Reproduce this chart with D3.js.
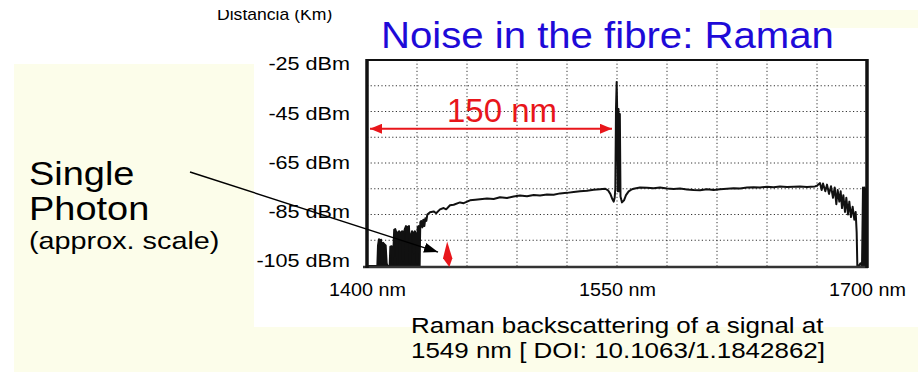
<!DOCTYPE html>
<html>
<head>
<meta charset="utf-8">
<script src="https://cdn.jsdelivr.net/npm/d3@7"></script>
<style>
  html, body { margin: 0; padding: 0; background: #fff; }
  svg { display: block; font-family: "Liberation Sans", Arial, sans-serif; }
</style>
</head>
<body>
<svg id="chart" width="918" height="372"></svg>
<script>
// Raman backscattering spectrum, redrawn from a scanned slide

const xLabelTicks = [1400, 1550, 1700];          // nm
const yLabelTicks = [-25, -45, -65, -85, -105];  // dBm
const xGridStep = 30;
const yGridStep = 10;

// [wavelength nm, power dBm]
const spectrum = [
  [1400, -105], [1406.2, -105], [1406.6, -97], [1407.2, -94.6], [1407.8, -95.5], [1408.4, -94.8],
  [1409, -104], [1409.6, -96], [1410.4, -96.5], [1411.2, -97], [1411.8, -104], [1412.4, -105],
  [1413.6, -105], [1414, -97.5], [1414.8, -97.3], [1415.4, -104], [1415.9, -98], [1416.3, -91],
  [1417, -90.7], [1417.6, -92], [1418.1, -104], [1418.6, -92], [1419.3, -91.5], [1419.9, -96],
  [1420.4, -92], [1421.1, -91.5], [1421.6, -103], [1422.1, -92], [1422.8, -90.5], [1423.4, -89.5],
  [1424, -96], [1424.5, -89.8], [1425.2, -89.5], [1425.8, -104], [1426.3, -93], [1427, -91.5],
  [1427.6, -92], [1428.2, -100], [1428.7, -91.5], [1429.4, -92.5], [1430, -104], [1430.4, -90],
  [1431, -89.5], [1431.5, -105], [1432, -88], [1432.6, -87.5], [1433.2, -90], [1433.8, -87],
  [1434.4, -89.5], [1435, -86.5], [1435.6, -87.5], [1436.2, -85], [1437.8, -84.1], [1440, -83.8],
  [1441.5, -84.5], [1443.8, -83], [1446, -82.5], [1447.5, -83], [1449.8, -81.4], [1452, -81.2],
  [1455.8, -80.3], [1458, -80.6], [1461.8, -79.5], [1465, -79.3], [1467.8, -79.1], [1472, -78.8],
  [1476, -79], [1479.8, -78.3], [1484, -78.6], [1488, -78], [1491.8, -77.6], [1496, -77.9],
  [1500, -77.4], [1503.8, -77.6], [1508, -77.2], [1512, -77.3], [1515.8, -76.8], [1520, -76.6],
  [1524, -76.3], [1527.8, -76], [1532, -75.8], [1536, -75.4], [1539.8, -75.2], [1543, -75],
  [1544.6, -75.6], [1546, -77], [1547.2, -79], [1548, -80], [1548.6, -78.5], [1549.0, -75],
  [1549.4, -44], [1549.8, -33.5], [1550.1, -44], [1550.5, -76], [1550.9, -44], [1551.3, -76],
  [1551.7, -46], [1552.1, -78], [1553, -80.3], [1554.2, -79.5], [1555.4, -77.5], [1557, -76],
  [1559, -75.2], [1560, -75], [1563.8, -74.5], [1568, -74.6], [1572, -74.8], [1575.8, -74.5],
  [1580, -74.9], [1584, -75.1], [1587.8, -74.9], [1592, -75.3], [1596, -75.5], [1599.8, -75.6],
  [1604, -75.2], [1608, -75.5], [1611.8, -75.2], [1616, -75], [1620, -74.8], [1623.8, -74.9],
  [1628, -74.5], [1632, -74.4], [1635.8, -74.5], [1640, -74.2], [1644, -74.4], [1647.8, -74.1],
  [1652, -74.3], [1656, -74.2], [1659.8, -74.1], [1664, -74.3], [1668.8, -74.1], [1670, -73.8],
  [1671.8, -72.8], [1672.8, -75.5], [1673.6, -73], [1675, -76], [1676, -73.4], [1677.2, -77],
  [1678.4, -74], [1679.6, -78.5], [1680.6, -74.5], [1681.6, -81], [1682.4, -75.5], [1683.4, -80],
  [1684.2, -76], [1685, -82.5], [1685.8, -77.5], [1686.8, -84], [1687.6, -78.5], [1688.6, -85],
  [1689.4, -80], [1690.4, -86], [1691.4, -82], [1692.4, -87], [1693.2, -84], [1693.8, -92],
  [1694.2, -105], [1695, -105], [1696, -104], [1697, -105], [1697.6, -74.5], [1698.2, -105],
  [1698.6, -74.5], [1699.2, -105], [1699.6, -75], [1700, -105]
];
const noiseEndNm = 1432;

// annotations
const spanStartNm = 1400;
const spanEndNm = 1547;
const spanLevel = -51.7;
const spanLabel = "150 nm";
const spanLabelNm = 1481;
const photonMarker = [[1448.1, -95.5], [1445.6, -102], [1449.4, -105.4], [1451.2, -102]];
const photonArrowTip = [1442.6, -99.6];

const titleText = "Noise in the fibre: Raman";
const sideLines = ["Single", "Photon", "(approx. scale)"];
const captionLines = ["Raman backscattering of a signal at", "1549 nm [ DOI: 10.1063/1.1842862]"];

const YELLOW = "#fcfdea";
const RED = "#e8161b";
const BLUE = "#1e0ad8";

const svg = d3.select("#chart");

// slide backgrounds
svg.append("rect").attr("x", 14).attr("y", 64).attr("width", 240).attr("height", 308).attr("fill", YELLOW);
svg.append("rect").attr("x", 14).attr("y", 327).attr("width", 904).attr("height", 45).attr("fill", YELLOW);
svg.append("rect").attr("x", 760).attr("y", 10).attr("width", 158).attr("height", 18).attr("fill", YELLOW);

const x = d3.scaleLinear().domain([1400, 1700]).range([367, 867]);
const y = d3.scaleLinear().domain([-105, -25]).range([266, 60]);
const yLab = d3.scaleLinear().domain([-105, -25]).range([261, 64]);

function stretched(parent, px, py, str, size, sx, anchor, color) {
  return parent.append("text")
    .attr("transform", `translate(${px},${py}) scale(${sx},1)`)
    .attr("text-anchor", anchor || "start")
    .attr("font-size", size)
    .attr("fill", color || "#000")
    .text(str);
}

// clipped header left over from the scan
svg.append("clipPath").attr("id", "topclip")
  .append("rect").attr("x", 0).attr("y", 10).attr("width", 918).attr("height", 40);
svg.append("g").attr("clip-path", "url(#topclip)")
  .call(g => stretched(g, 217, 20, "Distancia (Km)", 16, 1.1));

// grid
const grid = svg.append("g").attr("stroke", "#333").attr("stroke-width", 1)
  .attr("stroke-dasharray", "1.2,2.4");
grid.selectAll("line.v").data(d3.range(1400 + xGridStep, 1700, xGridStep)).join("line")
  .attr("class", "v")
  .attr("x1", d => x(d)).attr("x2", d => x(d))
  .attr("y1", y(-25)).attr("y2", y(-105));
grid.selectAll("line.h").data(d3.range(-105 + yGridStep, -25, yGridStep)).join("line")
  .attr("class", "h")
  .attr("x1", x(1400)).attr("x2", x(1700))
  .attr("y1", d => y(d)).attr("y2", d => y(d));

// noise floor fill + trace
const noise = spectrum.filter(d => d[0] <= noiseEndNm);
svg.append("path").datum(noise)
  .attr("fill", "#111")
  .attr("d", d3.area().x(d => x(d[0])).y0(y(-105)).y1(d => y(d[1])));
svg.append("path").datum(spectrum)
  .attr("fill", "none").attr("stroke", "#111").attr("stroke-width", 2)
  .attr("stroke-linejoin", "round")
  .attr("d", d3.line().x(d => x(d[0])).y(d => y(d[1])));

// frame
svg.append("line").attr("x1", 363).attr("x2", x(1700) + 1).attr("y1", y(-105) + 1).attr("y2", y(-105) + 1)
  .attr("stroke", "#333").attr("stroke-width", 2.5);
svg.append("line").attr("x1", x(1400)).attr("x2", x(1700)).attr("y1", y(-25)).attr("y2", y(-25))
  .attr("stroke", "#111").attr("stroke-width", 2);
svg.append("line").attr("x1", x(1400)).attr("x2", x(1400)).attr("y1", y(-25) - 1).attr("y2", y(-105) + 2)
  .attr("stroke", "#111").attr("stroke-width", 3.5);
svg.append("line").attr("x1", x(1700)).attr("x2", x(1700)).attr("y1", y(-25) - 1).attr("y2", y(-105) + 2)
  .attr("stroke", "#111").attr("stroke-width", 3.5);

// axes
const xAxis = svg.append("g").attr("transform", `translate(0,${y(-105)})`)
  .call(d3.axisBottom(x).tickValues(xLabelTicks).tickSize(0).tickPadding(0).tickFormat(d => d + " nm"));
xAxis.select(".domain").remove();
xAxis.selectAll("text")
  .attr("font-family", "Liberation Sans, Arial, sans-serif").attr("font-size", 18).attr("fill", "#000")
  .attr("y", 30).attr("dy", 0).attr("transform", "scale(1.1,1)");

const yAxis = svg.append("g").attr("transform", `translate(${x(1400)},0)`)
  .call(d3.axisLeft(yLab).tickValues(yLabelTicks).tickSize(0).tickFormat(d => d + " dBm"));
yAxis.select(".domain").remove();
yAxis.selectAll("text")
  .attr("font-family", "Liberation Sans, Arial, sans-serif").attr("font-size", 18).attr("fill", "#000")
  .attr("x", -17 / 1.2).attr("transform", "scale(1.2,1)");

// markers
const defs = svg.append("defs");
defs.append("marker").attr("id", "redhead").attr("markerUnits", "userSpaceOnUse")
  .attr("markerWidth", 12).attr("markerHeight", 10).attr("refX", 12).attr("refY", 5)
  .attr("orient", "auto-start-reverse")
  .append("path").attr("d", "M0,0 L12,5 L0,10 Z").attr("fill", RED);
defs.append("marker").attr("id", "blackhead").attr("markerUnits", "userSpaceOnUse")
  .attr("markerWidth", 14).attr("markerHeight", 10).attr("refX", 14).attr("refY", 5)
  .attr("orient", "auto")
  .append("path").attr("d", "M0,0 L14,5 L0,10 Z").attr("fill", "#000");

// 150 nm span arrow
svg.append("line")
  .attr("x1", x(spanStartNm) + 3).attr("x2", x(spanEndNm))
  .attr("y1", y(spanLevel)).attr("y2", y(spanLevel))
  .attr("stroke", RED).attr("stroke-width", 2)
  .attr("marker-start", "url(#redhead)").attr("marker-end", "url(#redhead)");
svg.append("text").attr("x", x(spanLabelNm)).attr("y", y(spanLevel) - 7)
  .attr("text-anchor", "middle").attr("font-size", 33).attr("fill", RED).text(spanLabel);

// single photon level
svg.append("polygon")
  .attr("points", photonMarker.map(d => [x(d[0]), y(d[1])].join(",")).join(" "))
  .attr("fill", RED);

// side note + arrow
const side = svg.append("g");
stretched(side, 29, 185, sideLines[0], 33, 1.15);
stretched(side, 29, 220, sideLines[1], 33, 1.15);
stretched(side, 29, 249, sideLines[2], 24, 1.2);
svg.append("line")
  .attr("x1", 190).attr("y1", 172)
  .attr("x2", x(photonArrowTip[0])).attr("y2", y(photonArrowTip[1]))
  .attr("stroke", "#000").attr("stroke-width", 1.5)
  .attr("marker-end", "url(#blackhead)");

// title
stretched(svg, 381, 48, titleText, 37, 1.085, "start", BLUE);

// caption
stretched(svg, 411, 333, captionLines[0], 22, 1.18);
stretched(svg, 411, 358, captionLines[1], 22, 1.18);
</script>
</body>
</html>
